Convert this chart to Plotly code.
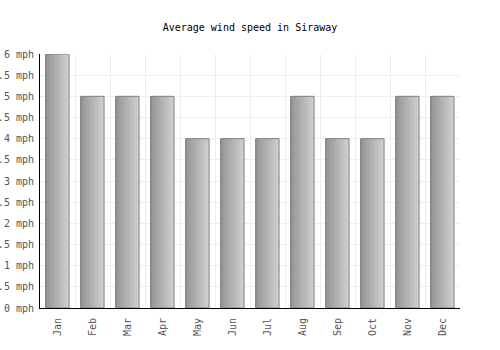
import plotly.graph_objects as go

months = ["Jan", "Feb", "Mar", "Apr", "May", "Jun", "Jul", "Aug", "Sep", "Oct", "Nov", "Dec"]
wind_mph = [6, 5, 5, 5, 4, 4, 4, 5, 4, 4, 5, 5]
y_ticks = [0, 0.5, 1, 1.5, 2, 2.5, 3, 3.5, 4, 4.5, 5, 5.5, 6]
y_tick_text = [f"{v:g} mph" for v in y_ticks]

FONT = "DejaVu Sans Mono"
bar_w = 0.66
n_strips = 14
fig = go.Figure()
c0, c1 = 150, 206
for i in range(n_strips):
    t = i / (n_strips - 1)
    c = int(c0 + (c1 - c0) * t)
    fig.add_trace(go.Bar(
        x=months, y=wind_mph, width=bar_w / n_strips,
        offset=-bar_w / 2 + i * bar_w / n_strips,
        marker=dict(color=f"rgb({c},{c},{c})", line=dict(width=0)),
        hoverinfo="skip", showlegend=False,
    ))
fig.add_trace(go.Bar(
    x=months, y=wind_mph, width=bar_w, offset=-bar_w / 2,
    marker=dict(color="rgba(0,0,0,0)", line=dict(color="#808080", width=1)),
    showlegend=False,
))

fig.update_layout(
    barmode="overlay",
    width=500, height=350,
    margin=dict(l=40, r=40, t=54, b=42),
    paper_bgcolor="white", plot_bgcolor="white",
    title=dict(text="Average wind speed in Siraway", x=0.5, xanchor="center",
               y=1 - 27 / 350, yanchor="middle",
               font=dict(family=FONT, size=10, color="black")),
    font=dict(family=FONT, size=10, color="#555555"),
    xaxis=dict(
        type="category", tickson="boundaries", showgrid=True, gridcolor="#eeeeee",
        tickangle=-90, showline=True, linecolor="black", linewidth=1,
        ticks="", automargin=False, ticklabelstandoff=5,
    ),
    yaxis=dict(
        range=[0, 6], tickvals=y_ticks, ticktext=y_tick_text,
        showgrid=True, gridcolor="#eeeeee", zeroline=False,
        showline=True, linecolor="black", linewidth=1,
        ticks="", automargin=False, ticklabelstandoff=3,
    ),
)

fig.write_html("out.html")
